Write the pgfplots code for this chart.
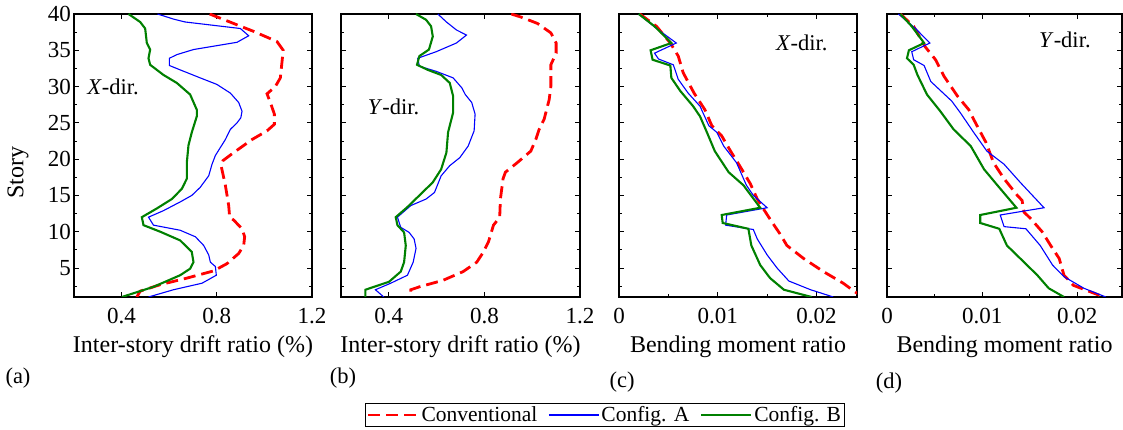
\documentclass[border=0pt]{standalone}
\usepackage{fontspec}
\setmainfont{Liberation Serif}
\usepackage{pgfplots}
\pgfplotsset{compat=1.18}

\definecolor{cConv}{RGB}{255,0,0}
\definecolor{cA}{RGB}{0,0,255}
\definecolor{cB}{RGB}{0,128,0}

\newcommand\labfont{\fontsize{24}{27}\selectfont}
\newcommand\tickfont{\fontsize{23}{26}\selectfont}
\newcommand\txtfont{\fontsize{22.5}{26}\selectfont}
\newcommand\legfont{\fontsize{21.5}{24}\selectfont}

\pgfplotsset{
  panel/.style={
    scale only axis, height=283pt, anchor=south west,
    ymin=1, ymax=40,
    ytick={5,10,...,40}, minor ytick={2.5,7.5,...,37.5},
    axis line style={line width=1.6pt},
    tick style={black, line width=0.9pt},
    major tick length=5pt, minor tick length=3pt,
    tick label style={font=\tickfont},
    xticklabel style={yshift=-8pt},
    yticklabel style={inner sep=3pt},
    label style={font=\labfont},
    xlabel style={yshift=-5pt},
    /pgf/number format/assume math mode=true,
    /pgf/number format/fixed,
    scaled x ticks=false,
  },
  drift/.style={xmin=0.2, xmax=1.2, xtick={0.4,0.8,1.2},
    xlabel={Inter-story drift ratio (\%)}},
  moment/.style={xmin=0, xtick={0,0.01,0.02}, minor xtick={0.005,0.015},
    xlabel={Bending moment ratio}},
  sConv/.style={color=cConv, line width=2.8pt, dash pattern=on 12pt off 6pt},
  sA/.style={color=cA, line width=1.1pt},
  sB/.style={color=cB, line width=2.1pt},
}

\begin{document}
\begin{tikzpicture}
\path[use as bounding box] (0,0) rectangle (1123pt,430pt);

% (a) drift, X-dir.
\begin{axis}[panel, drift, at={(74pt,133pt)}, width=238pt, ylabel={Story},
  ylabel style={at={(axis description cs:-0.235,0.44)}, anchor=center}]
\addplot[sConv] coordinates {
(0.770,40) (0.955,37.6) (1.053,36.2) (1.079,35) (1.067,31.2) (1.046,30)
(1.011,29) (1.025,27.8) (1.042,26.2) (1.042,24.8) (1.011,23.9) (0.948,22.7)
(0.871,20.9) (0.826,19.8) (0.818,19.1) (0.836,16.4) (0.850,13.6) (0.854,12)
(0.871,11.6) (0.906,10.4) (0.917,9.3) (0.913,8.1) (0.892,7) (0.843,5.6)
(0.787,4.6) (0.674,3.6) (0.562,2.7) (0.478,1.8) (0.464,1)};
\addplot[sA] coordinates {
(0.551,40) (0.618,39.3) (0.667,38.9) (0.899,38) (0.934,37) (0.885,36.1)
(0.702,35.1) (0.632,34.4) (0.601,33.9) (0.601,32.9) (0.646,32.3) (0.730,31.2)
(0.800,30.3) (0.857,29.1) (0.892,27.8) (0.906,26.6) (0.901,25.7) (0.885,25)
(0.857,24.1) (0.836,22.7) (0.815,21.6) (0.794,20.5) (0.780,19.3) (0.766,17.7)
(0.730,16.1) (0.695,15) (0.646,14.1) (0.576,12.9) (0.513,12) (0.534,10.9)
(0.646,10.2) (0.710,9.3) (0.745,8.1) (0.766,6.8) (0.773,5.8) (0.794,5.2)
(0.798,4) (0.738,2.9) (0.618,2) (0.513,1)};
\addplot[sB] coordinates {
(0.429,40) (0.478,38.9) (0.499,38) (0.506,36) (0.520,35.1) (0.513,33.9)
(0.520,33) (0.576,31.6) (0.632,30.5) (0.688,28.9) (0.716,26.8) (0.716,25.9)
(0.695,23.7) (0.681,21.9) (0.674,19.5) (0.674,17.3) (0.653,15.9) (0.611,14.5)
(0.548,13.2) (0.485,12) (0.492,10.9) (0.562,10) (0.646,8.8) (0.695,7.2)
(0.702,5.8) (0.688,4.9) (0.646,4) (0.534,2.4) (0.401,1)};
\node[font=\txtfont] at (axis cs:0.364,29.9) {\textit{X}-dir.};
\end{axis}

% (b) drift, Y-dir.
\begin{axis}[panel, drift, at={(341pt,133pt)}, width=239pt, yticklabels={},
  legend columns=3,
  legend style={at={(1.104,-0.417)}, anchor=center, draw=black, line width=0.8pt,
    font=\legfont, inner sep=1pt,
    /tikz/every even column/.append style={column sep=9pt}},
  legend image code/.code={\draw[#1] (0pt,0pt) -- (50pt,0pt);}]
\addplot[sConv] coordinates {
(0.912,40) (0.951,39.6) (1.022,38.7) (1.078,37.4) (1.100,36) (1.100,34.6)
(1.078,33) (1.078,30) (1.071,28.2) (1.050,25.5) (1.029,24.1) (1.015,22.7)
(0.994,21.1) (0.937,19.5) (0.888,18.2) (0.878,17.3) (0.867,14.5) (0.864,12)
(0.838,10.9) (0.817,8.6) (0.796,7.2) (0.768,5.8) (0.711,4.5) (0.627,3.3)
(0.528,2.4) (0.492,2) (0.492,1)};
\addlegendentry{Conventional}
\addplot[sA] coordinates {
(0.605,40) (0.641,38.9) (0.683,37.8) (0.725,37.1) (0.683,36) (0.598,34.8)
(0.521,33.9) (0.528,32.8) (0.598,32.1) (0.669,31.2) (0.706,29.8) (0.720,28.9)
(0.747,27.8) (0.761,26.2) (0.757,23.9) (0.732,21.8) (0.697,20.2) (0.655,19.1)
(0.619,17.7) (0.591,15.4) (0.556,14.5) (0.492,13.6) (0.436,12) (0.450,10.6)
(0.485,9.9) (0.506,9) (0.514,7.7) (0.502,5.8) (0.478,4) (0.408,2.9)
(0.344,2) (0.379,1)};
\addlegendentry{Config. A}
\addplot[sB] coordinates {
(0.514,40) (0.556,39.2) (0.577,38.3) (0.584,36.9) (0.568,35.1) (0.528,34.2)
(0.518,33) (0.563,32.3) (0.619,31.6) (0.655,30.5) (0.669,28.7) (0.669,26.4)
(0.648,23.7) (0.641,20.9) (0.619,18.6) (0.584,16.8) (0.528,15) (0.478,13.4)
(0.429,12) (0.436,10.9) (0.464,9.9) (0.471,8.1) (0.464,5.8) (0.450,4.5)
(0.401,3.1) (0.302,2) (0.302,1)};
\addlegendentry{Config. B}
\node[font=\txtfont] at (axis cs:0.42,27.2) {\textit{Y}-dir.};
\end{axis}

% (c) moment, X-dir.
\begin{axis}[panel, moment, at={(619pt,133pt)}, width=238pt, xmax=0.0241, yticklabels={}]
\addplot[sConv] coordinates {
(0.0021,40) (0.0038,38.3) (0.0052,36) (0.0060,34.2) (0.0065,31.9) (0.0076,29.1)
(0.0087,26.8) (0.0094,24.6) (0.0104,23.2) (0.0113,21.1) (0.0123,18.9)
(0.0133,16.6) (0.0140,14.5) (0.0145,13.4) (0.0155,11.3) (0.0163,9.7)
(0.0170,8.1) (0.0187,6.3) (0.0207,4.5) (0.0227,2.9) (0.0239,1.7) (0.0248,1)};
\addplot[sA] coordinates {
(0.0020,40) (0.0038,38) (0.0058,36) (0.0036,34.6) (0.0040,33.8) (0.0055,33)
(0.0060,31) (0.0070,29.1) (0.0082,27.3) (0.0091,24.6) (0.0099,23.7)
(0.0106,21.8) (0.0119,19.5) (0.0129,16.4) (0.0136,15) (0.0150,13.3)
(0.0109,12.3) (0.0108,10.9) (0.0136,10.3) (0.0140,9) (0.0150,6.8)
(0.0160,5) (0.0172,3.2) (0.0194,2) (0.0217,1)};
\addplot[sB] coordinates {
(0.0020,40) (0.0036,38.3) (0.0053,36) (0.0032,35) (0.0034,33.7) (0.0052,32.9)
(0.0053,31.2) (0.0062,29.4) (0.0075,27.3) (0.0082,25.9) (0.0089,23.7)
(0.0097,21.1) (0.0111,18.2) (0.0126,16.4) (0.0143,13.3) (0.0104,12.3)
(0.0105,11.2) (0.0131,10.4) (0.0134,8.1) (0.0143,5.4) (0.0153,3.6)
(0.0167,2) (0.0195,1)};
\node[font=\txtfont] at (axis cs:0.0185,36) {\textit{X}-dir.};
\end{axis}

% (d) moment, Y-dir.
\begin{axis}[panel, moment, at={(887pt,133pt)}, width=235pt, xmax=0.0247, yticklabels={}]
\addplot[sConv] coordinates {
(0.0014,40) (0.0028,38.3) (0.0040,35.5) (0.0051,33.7) (0.0060,31.4)
(0.0074,28.7) (0.0086,26.8) (0.0093,25) (0.0104,22.3) (0.0112,19.5)
(0.0123,17.3) (0.0137,15) (0.0142,14.3) (0.0144,12.7) (0.0151,11.8)
(0.0163,10) (0.0172,8.1) (0.0181,6.3) (0.0186,4) (0.0196,2.6)
(0.0214,1.7) (0.0228,1)};
\addplot[sA] coordinates {
(0.0012,40) (0.0030,38) (0.0045,36) (0.0026,34.8) (0.0028,33.7) (0.0039,32.9)
(0.0046,30.7) (0.0068,28) (0.0077,26.4) (0.0091,23.7) (0.0105,21.1)
(0.0123,19.3) (0.0140,16.8) (0.0165,13.3) (0.0119,12.3) (0.0123,10.7)
(0.0146,10.4) (0.0161,8.1) (0.0174,5.4) (0.0186,3.8) (0.0207,2.2) (0.0230,1)};
\addplot[sB] coordinates {
(0.0014,40) (0.0026,38.3) (0.0039,36) (0.0023,35) (0.0021,33.9) (0.0028,33)
(0.0032,31.6) (0.0042,28.9) (0.0056,26.6) (0.0070,24.1) (0.0088,21.8)
(0.0102,18.6) (0.0116,16.4) (0.0136,13.3) (0.0098,12.3) (0.0098,11.2)
(0.0118,10.4) (0.0126,8.1) (0.0144,5.8) (0.0158,4) (0.0170,2.2) (0.0186,1)};
\node[font=\txtfont] at (axis cs:0.0187,36.4) {\textit{Y}-dir.};
\end{axis}

\begin{scope}[every node/.style={font=\txtfont}]
\node at (18pt,52pt) {(a)};
\node at (343pt,52pt) {(b)};
\node at (622pt,48pt) {(c)};
\node at (889pt,47pt) {(d)};
\end{scope}
\end{tikzpicture}
\end{document}
